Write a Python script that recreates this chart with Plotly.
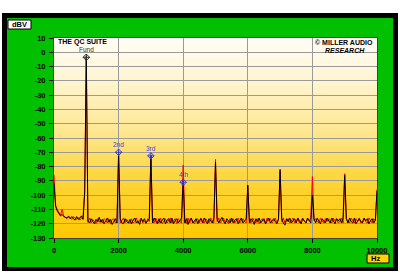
import plotly.graph_objects as go

# ---------------- data ----------------
BIN_HZ = 50
freq = [BIN_HZ * i for i in range(201)]  # 0 .. 10000 Hz analyser bins

noise_black = [
    -92, -108, -111, -113, -114.5, -113.5, -115, -115.5, -116, -115,
    -116.5, -115, -116.5, -117.5, -115, -117, -116, -114.5, -117, -97,
    -116, -118, -119.5, -116.5, -118.5, -120, -117, -118.5, -115.5, -119,
    -117, -120, -118, -116, -119, -117, -120.5, -118, -116.5, -119.5,
    -118, -116.5, -119.5, -120, -116.5, -118.5, -119.5, -117, -120, -117.5,
    -116, -119.5, -118, -120.5, -116.5, -118.5, -116.5, -119.5, -118, -116.5,
    -118.5, -119.5, -116, -118.5, -120, -116.5, -119.5, -117.5, -116, -120,
    -117.5, -116.5, -119.5, -116, -120, -118, -116.5, -119.5, -117.5, -116,
    -118, -119.5, -116.5, -120.5, -117.5, -116, -119.5, -118, -116.5, -120,
    -117.5, -116.5, -119.5, -116, -118.5, -120, -116.5, -118.5, -119.5, -116,
    -118, -116.5, -119.5, -117.5, -115.5, -118.5, -120, -116.5, -118, -119.5,
    -116, -119.5, -117.5, -116.5, -120, -118, -116, -119.5, -117.5, -116.5,
    -118, -119.5, -116.5, -118, -120.5, -116.5, -118.5, -116, -119.5, -117.5,
    -116.5, -120, -118, -116, -119.5, -117.5, -116.5, -118.5, -120, -116.5,
    -118, -116.5, -119.5, -121, -116.5, -118.5, -116, -119.5, -117.5, -116.5,
    -119.5, -116, -118, -120, -116.5, -118.5, -119.5, -116, -118, -119.5,
    -118, -116.5, -119.5, -116, -118.5, -120, -116.5, -118, -119.5, -116,
    -118, -119.5, -116, -118.5, -120, -116.5, -118, -116.5, -119.5, -116,
    -118, -116.5, -119.5, -116, -118.5, -119.5, -116, -120, -118, -116.5,
    -118.5, -119.5, -116, -118, -116.5, -120, -118, -116.5, -119.5, -117.5,
    -118,
]

noise_red = [
    -86, -107, -110, -112.5, -114, -110, -114.5, -115.5, -116.5, -114.5,
    -116, -117, -115, -116, -117, -115.5, -117.5, -116, -115.5, -99,
    -117.5, -119, -116, -119.5, -117, -118.5, -120, -116.5, -119, -117,
    -119.5, -116.5, -117.5, -119.5, -116.5, -120, -117, -116.5, -119.5, -118,
    -116.5, -119.5, -118, -116, -119.5, -117, -118.5, -120, -116.5, -119.5,
    -118.5, -116, -119.5, -117.5, -116, -119.5, -118, -120, -116.5, -118.5,
    -116.5, -118.5, -119.5, -116, -118.5, -119.5, -116, -120, -118, -116.5,
    -119.5, -118, -116, -119.5, -117.5, -116.5, -120, -116.5, -118.5, -119.5,
    -116.5, -118.5, -120, -116, -119.5, -116.5, -118.5, -120, -117.5, -116.5,
    -119.5, -116, -118.5, -119.5, -116.5, -118, -119.5, -116, -118.5, -119.5,
    -116.5, -118.5, -116, -119.5, -117.5, -116, -119.5, -118, -120, -116.5,
    -118.5, -116.5, -119.5, -118, -116, -119.5, -117.5, -116.5, -118.5, -119.5,
    -116.5, -118.5, -119.5, -116, -118, -119.5, -116.5, -120, -118, -116.5,
    -118.5, -119.5, -116, -118, -116.5, -119.5, -118, -116, -119.5, -117.5,
    -116.5, -118.5, -116, -119.5, -118, -116.5, -119.5, -118, -116, -119.5,
    -118, -116.5, -119.5, -118, -116, -118.5, -119.5, -116.5, -118, -116,
    -119.5, -118, -116.5, -118.5, -119.5, -116, -118, -119.5, -116.5, -118.5,
    -116.5, -118.5, -119.5, -116, -118, -116.5, -119.5, -118, -116, -119.5,
    -118, -116.5, -118.5, -119.5, -116, -118, -119.5, -116.5, -118.5, -116,
    -119.5, -118, -116.5, -118.5, -119.5, -116, -118, -119.5, -116.5, -118,
    -118,
]

harm_freq = [1000, 2000, 3000, 4000, 5000, 6000, 7000, 8000, 9000, 10000]
harm_black = [-3, -70, -72, -90, -77, -93, -82, -100, -86, -97]
harm_red = [-3, -72, -73, -79, -75, -94, -83, -87, -85, -96]

marker_freq = [1000, 2000, 3000, 4000]
marker_level = [-3.5, -70, -72.5, -91]
marker_label = ["Fund", "2nd", "3rd", "4th"]

x_ticks = [0, 2000, 4000, 6000, 8000, 10000]
y_ticks = list(range(-130, 11, 10))
X_RANGE = [0, 10000]
Y_RANGE = [-130, 10]


def with_harmonics(noise, levels):
    vals = list(noise)
    for f, v in zip(harm_freq, levels):
        vals[freq.index(f)] = v
    return vals


ch_black = with_harmonics(noise_black, harm_black)
ch_red = with_harmonics(noise_red, harm_red)

# ---------------- layout helpers ----------------
W, H = 400, 273
L, R, T, B = 54, 377, 38, 238


def pxx(x):
    return (x - L) / (R - L)


def pxy(y):
    return (B - y) / (B - T)


shapes = []
# outer black frame and green panel
shapes.append(dict(type="rect", xref="paper", yref="paper", layer="below",
                   x0=pxx(2), x1=pxx(398), y0=pxy(271), y1=pxy(13),
                   fillcolor="#000000", line=dict(width=0)))
shapes.append(dict(type="rect", xref="paper", yref="paper", layer="below",
                   x0=pxx(7), x1=pxx(393), y0=pxy(267), y1=pxy(18),
                   fillcolor="#00C000", line=dict(width=0)))

# vertical gradient background of the plot area
stops = [(0.0, (255, 200, 0)), (0.3, (253, 214, 60)), (0.55, (254, 232, 150)),
         (0.8, (255, 245, 212)), (1.0, (255, 253, 246))]


def grad(t):
    for (t0, c0), (t1, c1) in zip(stops[:-1], stops[1:]):
        if t0 <= t <= t1:
            a = (t - t0) / (t1 - t0)
            return "rgb(%d,%d,%d)" % tuple(round(c0[k] + a * (c1[k] - c0[k])) for k in range(3))
    return "rgb(%d,%d,%d)" % stops[-1][1]


NB = 100
for i in range(NB):
    shapes.append(dict(type="rect", xref="paper", yref="paper", layer="below",
                       x0=0, x1=1, y0=i / NB, y1=min(1, (i + 1.6) / NB),
                       fillcolor=grad((i + 0.5) / NB), line=dict(width=0)))

# unit boxes
shapes.append(dict(type="rect", xref="paper", yref="paper", layer="above",
                   x0=pxx(8), x1=pxx(31), y0=pxy(29), y1=pxy(20),
                   fillcolor="#FFFFFF", line=dict(color="#000000", width=1)))
shapes.append(dict(type="rect", xref="paper", yref="paper", layer="above",
                   x0=pxx(367), x1=pxx(389), y0=pxy(263), y1=pxy(254),
                   fillcolor="#FFD400", line=dict(color="#000000", width=1)))

FONT = "Liberation Sans, Arial, sans-serif"

annotations = [
    dict(text="<b>dBV</b>", x=pxx(10), y=pxy(24.5), xref="paper", yref="paper",
         xanchor="left", yanchor="middle", showarrow=False,
         font=dict(family=FONT, size=7.5, color="#000000")),
    dict(text="<b>Hz</b>", x=pxx(369), y=pxy(258.5), xref="paper", yref="paper",
         xanchor="left", yanchor="middle", showarrow=False,
         font=dict(family=FONT, size=7.5, color="#000000")),
    dict(text="<b>THE QC SUITE</b>", x=pxx(56), y=pxy(42.5), xref="paper", yref="paper",
         xanchor="left", yanchor="middle", showarrow=False,
         font=dict(family=FONT, size=7, color="#000000")),
    dict(text="<b>© MILLER AUDIO</b>", x=pxx(375), y=pxy(42), xref="paper", yref="paper",
         xanchor="right", yanchor="middle", showarrow=False,
         font=dict(family=FONT, size=7, color="#000000")),
    dict(text="<b><i>RESEARCH</i></b>", x=pxx(367), y=pxy(50), xref="paper", yref="paper",
         xanchor="right", yanchor="middle", showarrow=False,
         font=dict(family=FONT, size=7, color="#000000")),
]

marker_colors = ["#303030"] + ["#4040D8"] * (len(marker_freq) - 1)
for f, v, lab, c in zip(marker_freq, marker_level, marker_label, marker_colors):
    annotations.append(dict(text=lab, x=f, y=v, xref="x", yref="y", yshift=7.5,
                            xanchor="center", yanchor="middle", showarrow=False,
                            font=dict(family=FONT, size=6.5, color=c)))

fig = go.Figure()
fig.add_trace(go.Scatter(x=freq, y=ch_red, mode="lines",
                         line=dict(color="#FF0000", width=1), hoverinfo="skip"))
fig.add_trace(go.Scatter(x=freq, y=ch_black, mode="lines",
                         line=dict(color="#000000", width=1), hoverinfo="skip"))

fig.add_trace(go.Scatter(
    x=marker_freq, y=marker_level, mode="markers",
    marker=dict(symbol="diamond-cross-open", size=5, color=marker_colors,
                line=dict(width=1, color=marker_colors)),
    hoverinfo="skip"))

axis_common = dict(
    showgrid=True, gridcolor="#9A9A9A", gridwidth=1, zeroline=False,
    showline=True, linecolor="#404040", linewidth=1, mirror=True,
    ticks="outside", ticklen=4, tickwidth=1, tickcolor="#000000",
    tickfont=dict(family=FONT, size=7.5, color="#000000", weight="bold"),
)

fig.update_layout(
    width=W, height=H,
    margin=dict(l=L, r=W - R, t=T, b=H - B, pad=0),
    paper_bgcolor="#FFFFFF", plot_bgcolor="rgba(0,0,0,0)",
    showlegend=False,
    xaxis=dict(range=X_RANGE, tickvals=x_ticks, ticktext=[str(v) for v in x_ticks],
               ticklabelstandoff=1, **axis_common),
    yaxis=dict(range=Y_RANGE, tickvals=y_ticks, ticktext=[str(v) for v in y_ticks],
               ticklabelstandoff=2, **axis_common),
    shapes=shapes, annotations=annotations,
)

fig.write_html("out.html")
